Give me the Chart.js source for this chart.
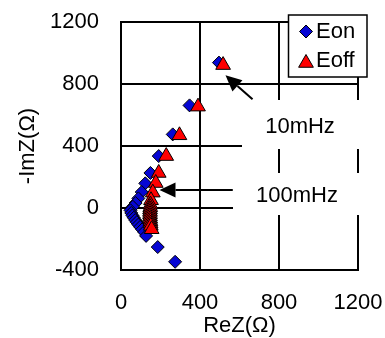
<!DOCTYPE html>
<html>
<head>
<meta charset="utf-8">
<script src="https://cdn.jsdelivr.net/npm/chart.js@4/dist/chart.umd.min.js"></script>
<style>
  html, body { margin: 0; padding: 0; background: #fff; }
  #wrap { width: 385px; height: 338px; }
</style>
</head>
<body>
<div id="wrap"><canvas id="c" width="385" height="338"></canvas></div>
<script>
// ---- data ----
const seriesNames = ["Eon", "Eoff"];
const eonRe  = [496, 347, 262, 191, 149, 123, 105, 88, 74, 60, 48, 52, 58, 65, 72, 80, 88, 97, 107, 117, 127, 186, 274];
const eonIm  = [938, 662, 475, 335, 226, 159, 103, 62, 32, 8, -15, -32, -48, -63, -78, -92, -107, -122, -138, -155, -180, -252, -347];
const eoffRe = [517, 390, 296, 229, 191, 176, 161, 152, 149, 148, 147, 147, 147, 147, 148, 149, 150, 151, 155];
const eoffIm = [922, 654, 469, 335, 226, 161, 99, 50, 22, 5, -10, -25, -40, -55, -70, -85, -100, -115, -137];
const xTicks = [0, 400, 800, 1200];
const yTicks = [-400, 0, 400, 800, 1200];
const annotations = [
  { text: "10mHz",  tip: [529, 856], tail: [666, 701] },
  { text: "100mHz", tip: [195, 116], tail: [566, 116] }
];

const FONT = "'Liberation Sans', Arial, sans-serif";
const toPts = (xs, ys) => xs.map((x, i) => ({ x: x, y: ys[i] }));

const annotPlugin = {
  id: 'annot',
  beforeDatasetsDraw(chart) {
    const ctx = chart.ctx;
    const boxes = [
      { x0: 242, y0: 100, x1: 372, y1: 149, text: annotations[0].text, tx: 300, ty: 127 },
      { x0: 233, y0: 173, x1: 372, y1: 215, text: annotations[1].text, tx: 297, ty: 196 }
    ];
    ctx.save();
    ctx.fillStyle = '#fff';
    boxes.forEach(b => ctx.fillRect(b.x0, b.y0, b.x1 - b.x0, b.y1 - b.y0));
    ctx.fillStyle = '#000';
    ctx.font = '22px ' + FONT;
    ctx.textAlign = 'center';
    ctx.textBaseline = 'middle';
    boxes.forEach(b => ctx.fillText(b.text, b.tx, b.ty));
    const xs = chart.scales.x, ys = chart.scales.y;
    annotations.forEach(a => {
      const tx = xs.getPixelForValue(a.tip[0]), ty = ys.getPixelForValue(a.tip[1]);
      const sx = xs.getPixelForValue(a.tail[0]), sy = ys.getPixelForValue(a.tail[1]);
      const ang = Math.atan2(ty - sy, tx - sx);
      const L = 16, W = 7.5;
      const bx = tx - Math.cos(ang) * L, by = ty - Math.sin(ang) * L;
      ctx.strokeStyle = '#000';
      ctx.lineWidth = 2;
      ctx.beginPath();
      ctx.moveTo(sx, sy);
      ctx.lineTo(bx, by);
      ctx.stroke();
      ctx.beginPath();
      ctx.moveTo(tx, ty);
      ctx.lineTo(bx + Math.sin(ang) * W, by - Math.cos(ang) * W);
      ctx.lineTo(bx - Math.sin(ang) * W, by + Math.cos(ang) * W);
      ctx.closePath();
      ctx.fillStyle = '#000';
      ctx.fill();
    });
    ctx.restore();
  },
  afterDraw(chart) {
    const ctx = chart.ctx;
    ctx.save();
    ctx.fillStyle = '#fff';
    ctx.fillRect(288.5, 15, 78.5, 62);
    ctx.strokeStyle = '#000';
    ctx.lineWidth = 1.5;
    ctx.strokeRect(288.5, 15, 78.5, 62);
    const ds = chart.data.datasets;
    const items = [
      { ds: ds[0], y: 31.5, my: 31.5 },
      { ds: ds[1], y: 60.5, my: 63 }
    ];
    items.forEach(it => {
      ctx.fillStyle = it.ds.backgroundColor;
      ctx.strokeStyle = it.ds.borderColor;
      ctx.lineWidth = it.ds.borderWidth;
      Chart.helpers.drawPoint(ctx, { pointStyle: it.ds.pointStyle, radius: it.ds.pointRadius, rotation: 0, borderWidth: it.ds.borderWidth }, 306, it.my);
      ctx.fillStyle = '#000';
      ctx.font = '22px ' + FONT;
      ctx.textAlign = 'left';
      ctx.textBaseline = 'middle';
      ctx.fillText(it.ds.label, 316, it.y);
    });
    ctx.restore();
  }
};

new Chart(document.getElementById('c'), {
  type: 'scatter',
  data: {
    datasets: [
      { label: seriesNames[0], data: toPts(eonRe, eonIm), pointStyle: 'rectRot', pointRadius: 6.5,
        backgroundColor: '#0606d4', borderColor: '#000', borderWidth: 1, order: 2 },
      { label: seriesNames[1], data: toPts(eoffRe, eoffIm), pointStyle: 'triangle', pointRadius: 8.5,
        backgroundColor: '#ff0000', borderColor: '#000', borderWidth: 1, order: 1 }
    ]
  },
  options: {
    responsive: false,
    animation: false,
    layout: { padding: { left: 0, top: 22, right: 27, bottom: 0 } },
    plugins: { legend: { display: false }, tooltip: { enabled: false } },
    scales: {
      x: {
        type: 'linear', min: 0, max: 1200,
        afterBuildTicks: s => { s.ticks = xTicks.map(v => ({ value: v })); },
        afterFit: s => { s.height = 68; },
        grid: { color: '#000', lineWidth: 2, drawTicks: true, tickLength: 19.5, tickColor: 'rgba(0,0,0,0)' },
        border: { color: '#000', width: 2 },
        ticks: { color: '#000', font: { family: FONT, size: 22 }, padding: 0, maxRotation: 0, callback: v => String(v) },
        title: { display: true, text: 'ReZ(Ω)', color: '#000', font: { family: FONT, size: 22, lineHeight: 1 }, padding: { top: 0, bottom: 1 } }
      },
      y: {
        type: 'linear', min: -400, max: 1200,
        afterBuildTicks: s => { s.ticks = yTicks.map(v => ({ value: v })); },
        afterFit: s => { s.width = 121; },
        grid: { color: '#000', lineWidth: 2, drawTicks: true, tickLength: 22, tickColor: 'rgba(0,0,0,0)' },
        border: { color: '#000', width: 2 },
        ticks: { color: '#000', font: { family: FONT, size: 22 }, padding: 0, callback: v => String(v) },
        title: { display: true, text: '-ImZ(Ω)', color: '#000', font: { family: FONT, size: 22, lineHeight: 1.2 }, padding: { top: 15, bottom: 0 } }
      }
    }
  },
  plugins: [annotPlugin]
});
</script>
</body>
</html>
